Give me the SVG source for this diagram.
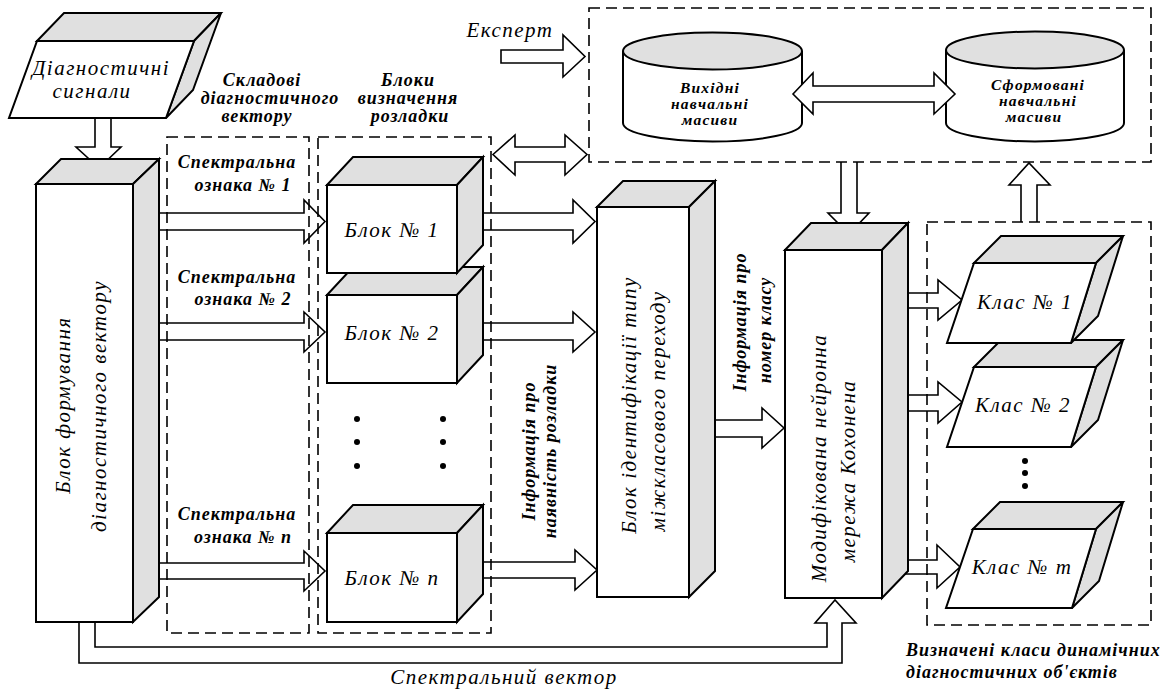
<svg xmlns="http://www.w3.org/2000/svg" width="1174" height="689" viewBox="0 0 1174 689">
<style>
.face{fill:#fff;stroke:#000;stroke-width:2;stroke-linejoin:miter}
.shade{fill:#e0e0e0;stroke:#000;stroke-width:2;stroke-linejoin:miter}
.arrow{fill:#fff;stroke:#000;stroke-width:1.6;stroke-linejoin:miter}
.dash{fill:none;stroke:#000;stroke-width:1.6;stroke-dasharray:11 6}
text{font-family:'Liberation Serif','Times New Roman',Times,serif;font-style:italic;font-size:21px;letter-spacing:1.5px;fill:#000}
.b{font-weight:bold;font-size:18px;letter-spacing:1px}
.c{font-size:15.5px;letter-spacing:1.2px}
.m{text-anchor:middle}
.dot{fill:#000}
</style>
<rect width="1174" height="689" fill="#fff"/>

<g id="connectors">
  <path class="arrow" d="M95 118 L95 147 L76 147 L99 168 L121 147 L111 147 L111 118"/>
  <path class="arrow" d="M148 213 L304 213 L304 200 L325 221.5 L304 243 L304 230 L148 230"/>
  <path class="arrow" d="M148 323 L304 323 L304 312 L325 332 L304 352 L304 340 L148 340"/>
  <path class="arrow" d="M148 563 L304 563 L304 551 L325 571 L304 591 L304 579 L148 579"/>
  <path class="arrow" d="M471 213 L573 213 L573 200 L595 221.5 L573 243 L573 230 L471 230"/>
  <path class="arrow" d="M471 323 L573 323 L573 312 L595 332 L573 352 L573 340 L471 340"/>
  <path class="arrow" d="M471 562 L575 562 L575 550 L597 570 L575 590 L575 578 L471 578"/>
  <path class="arrow" d="M704 420 L762 420 L762 408 L784 428 L762 448 L762 437 L704 437"/>
  <path class="arrow" d="M898 293 L938 293 L938 280 L962 300 L938 320 L938 308 L898 308"/>
  <path class="arrow" d="M898 395 L938 395 L938 382 L962 402 L938 423 L938 411 L898 411"/>
  <path class="arrow" d="M898 560 L937 560 L937 545 L960 567 L937 588 L937 574 L898 574"/>
  <path class="arrow" d="M841 162 L841 213 L828 213 L849 234 L869 213 L857 213 L857 162"/>
  <path class="arrow" d="M1021 222 L1021 185 L1009 185 L1029 163 L1050 185 L1037 185 L1037 222"/>
  <path class="arrow" d="M501 50 L563 50 L563 35 L585 56.5 L563 77 L563 63 L501 63 Z"/>
  <path class="arrow" d="M493 154.5 L515 135 L515 147 L565 147 L565 135 L587 154.5 L565 175 L565 162 L515 162 L515 175 Z"/>
  <path class="arrow" d="M79 622 L79 663 L842 663 L842 623 L856 623 L835 600 L815 623 L827 623 L827 647 L95 647 L95 622"/>
</g>

<g id="groups">
  <rect class="dash" x="167" y="137" width="142" height="496"/>
  <rect class="dash" x="318" y="137" width="173" height="496"/>
  <rect class="dash" x="589" y="8" width="562" height="154"/>
  <rect class="dash" x="927" y="222" width="224" height="403"/>
</g>

<g id="signals">
  <polygon class="shade" points="37,41 64,13 221,13 194,41"/>
  <polygon class="shade" points="194,41 221,13 193,90 166,118"/>
  <polygon class="face" points="37,41 194,41 166,118 9,118"/>
  <text class="m" x="101" y="75">Діагностичні</text>
  <text class="m" x="92" y="98">сигнали</text>
</g>

<g id="block-formation">
  <polygon class="shade" points="36,184 61,159 159,159 133,184"/>
  <polygon class="shade" points="133,184 159,159 159,597 133,622"/>
  <rect class="face" x="36" y="184" width="97" height="438"/>
  <text class="m" transform="translate(70,405) rotate(-90)">Блок формування</text>
  <text class="m" transform="translate(106,406) rotate(-90)">діагностичного вектору</text>
</g>

<g id="labels-left">
  <text class="b m" x="262" y="86">Складові</text>
  <text class="b m" x="270" y="104">діагностичного</text>
  <text class="b m" x="257" y="122">вектору</text>
  <text class="b m" x="408" y="86">Блоки</text>
  <text class="b m" x="408" y="104">визначення</text>
  <text class="b m" x="410" y="122">розладки</text>
  <text class="b m" x="237" y="168">Спектральна</text>
  <text class="b m" x="243" y="191">ознака  № 1</text>
  <text class="b m" x="237" y="283">Спектральна</text>
  <text class="b m" x="243" y="305">ознака  № 2</text>
  <text class="b m" x="237" y="520">Спектральна</text>
  <text class="b m" x="243" y="543">ознака  № n</text>
</g>

<g id="block-2">
  <polygon class="shade" points="327,295 353,267 483,267 457,295"/>
  <polygon class="shade" points="457,295 483,267 483,355 457,383"/>
  <rect class="face" x="327" y="295" width="130" height="88"/>
  <text class="m" x="392" y="340">Блок № 2</text>
</g>
<g id="block-1">
  <polygon class="shade" points="327,185 353,157 483,157 457,185"/>
  <polygon class="shade" points="457,185 483,157 483,245 457,273"/>
  <rect class="face" x="327" y="185" width="130" height="88"/>
  <text class="m" x="392" y="237">Блок № 1</text>
</g>
<g id="block-dots">
  <circle class="dot" cx="357" cy="419" r="3"/>
  <circle class="dot" cx="357" cy="442" r="3"/>
  <circle class="dot" cx="357" cy="466" r="3"/>
  <circle class="dot" cx="443" cy="419" r="3"/>
  <circle class="dot" cx="443" cy="442" r="3"/>
  <circle class="dot" cx="443" cy="466" r="3"/>
</g>
<g id="block-n">
  <polygon class="shade" points="327,533 353,505 483,505 457,533"/>
  <polygon class="shade" points="457,533 483,505 483,594 457,622"/>
  <rect class="face" x="327" y="533" width="130" height="89"/>
  <text class="m" x="392" y="585">Блок № n</text>
</g>

<g id="info-labels">
  <text class="b m" transform="translate(535,451) rotate(-90)">Інформація про</text>
  <text class="b m" transform="translate(556,451) rotate(-90)">наявність розладки</text>
  <text class="b m" transform="translate(746,322) rotate(-90)">Інформація про</text>
  <text class="b m" transform="translate(771,330) rotate(-90)">номер класу</text>
</g>

<g id="identification">
  <polygon class="shade" points="597,207 623,181 715,181 689,207"/>
  <polygon class="shade" points="689,207 715,181 715,571 689,597"/>
  <rect class="face" x="597" y="207" width="92" height="390"/>
  <text class="m" transform="translate(636,405) rotate(-90)">Блок ідентифікації типу</text>
  <text class="m" transform="translate(665,411) rotate(-90)">міжкласового переходу</text>
</g>

<g id="kohonen">
  <polygon class="shade" points="785,250 811,223 908,223 882,250"/>
  <polygon class="shade" points="882,250 908,223 908,571 882,598"/>
  <rect class="face" x="785" y="250" width="97" height="348"/>
  <text class="m" transform="translate(826,458) rotate(-90)">Модифікована нейронна</text>
  <text class="m" transform="translate(855,471) rotate(-90)">мережа  Кохонена</text>
</g>

<g id="expert">
  <text class="m" x="510" y="37">Експерт</text>
</g>

<g id="source-arrays">
  <path class="face" d="M623 51 L623 123 A89.5 18.5 0 0 0 802 123 L802 51"/>
  <ellipse class="shade" cx="712.5" cy="51" rx="89.5" ry="18.5"/>
  <text class="b c m" x="710" y="93">Вихідні</text>
  <text class="b c m" x="710" y="109">навчальні</text>
  <text class="b c m" x="710" y="125">масиви</text>
</g>

<g id="formed-arrays">
  <path class="face" d="M946 50 L946 123 A89 18.5 0 0 0 1124 123 L1124 50"/>
  <ellipse class="shade" cx="1035" cy="50" rx="89" ry="18.5"/>
  <text class="b c m" x="1038" y="90">Сформовані</text>
  <text class="b c m" x="1038" y="106">навчальні</text>
  <text class="b c m" x="1034" y="122">масиви</text>
</g>

<g id="arrays-link">
  <path class="arrow" d="M793 94 L813 73 L813 86 L934 86 L934 73 L955 94 L934 114 L934 102 L813 102 L813 114 Z"/>
</g>

<g id="class-2">
  <polygon class="shade" points="974,367 1001,340 1123,340 1096,367"/>
  <polygon class="shade" points="1096,367 1123,340 1098,420 1071,447"/>
  <polygon class="face" points="974,367 1096,367 1071,447 947,447"/>
  <text class="m" x="1023" y="412">Клас № 2</text>
</g>
<g id="class-1">
  <polygon class="shade" points="974,263 1001,236 1123,236 1096,263"/>
  <polygon class="shade" points="1096,263 1123,236 1098,316 1071,343"/>
  <polygon class="face" points="974,263 1096,263 1071,343 947,343"/>
  <text class="m" x="1025" y="309">Клас № 1</text>
</g>
<g id="class-dots">
  <circle class="dot" cx="1025" cy="461" r="3"/>
  <circle class="dot" cx="1025" cy="473" r="3"/>
  <circle class="dot" cx="1025" cy="486" r="3"/>
</g>
<g id="class-m">
  <polygon class="shade" points="973,529 1000,502 1123,502 1096,529"/>
  <polygon class="shade" points="1096,529 1123,502 1099,581 1072,608"/>
  <polygon class="face" points="973,529 1096,529 1072,608 946,608"/>
  <text class="m" x="1022" y="574">Клас № m</text>
</g>

<g id="captions">
  <text class="b" x="906" y="656">Визначені класи динамічних</text>
  <text class="b" x="906" y="678">діагностичних об'єктів</text>
  <text class="m" x="504" y="684">Спектральний вектор</text>
</g>
</svg>
